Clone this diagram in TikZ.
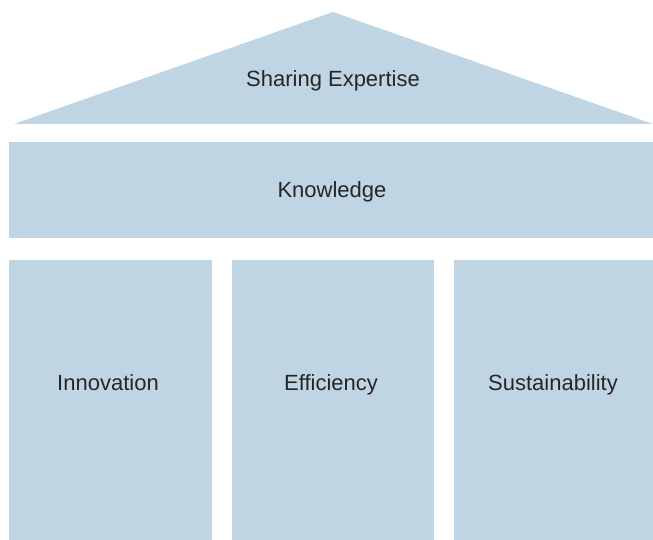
\documentclass[tikz,border=0pt]{standalone}
\usepackage{fontspec}
\setmainfont{Liberation Sans}
\definecolor{pillar}{RGB}{191,213,228}
\tikzset{label text/.style={text=black!85, font=\fontsize{22}{26}\selectfont, inner sep=0pt, anchor=base}}
\begin{document}
\begin{tikzpicture}[x=1pt,y=-1pt]
	\useasboundingbox (0,0) rectangle (653,540);
	\coordinate (A) at (333,12);
	\coordinate (L) at (14,124);
	\coordinate (R) at (653,124);
	\fill[pillar] (L) -- (A) -- (R) -- cycle;
	\node[label text] (roof) at (333,87) {Sharing Expertise};
	\fill[pillar] (9,142) rectangle (653,238);
	\node[label text] (knowledge) at (332,198) {Knowledge};
	\fill[pillar] (9,260) rectangle (212,540);
	\fill[pillar] (232,260) rectangle (434,540);
	\fill[pillar] (454,260) rectangle (653,540);
	\node[label text] (innovation) at (108,390) {Innovation};
	\node[label text] (efficiency) at (331,390) {Efficiency};
	\node[label text] (sustain) at (553,390) {Sustainability};
\end{tikzpicture}
\end{document}
